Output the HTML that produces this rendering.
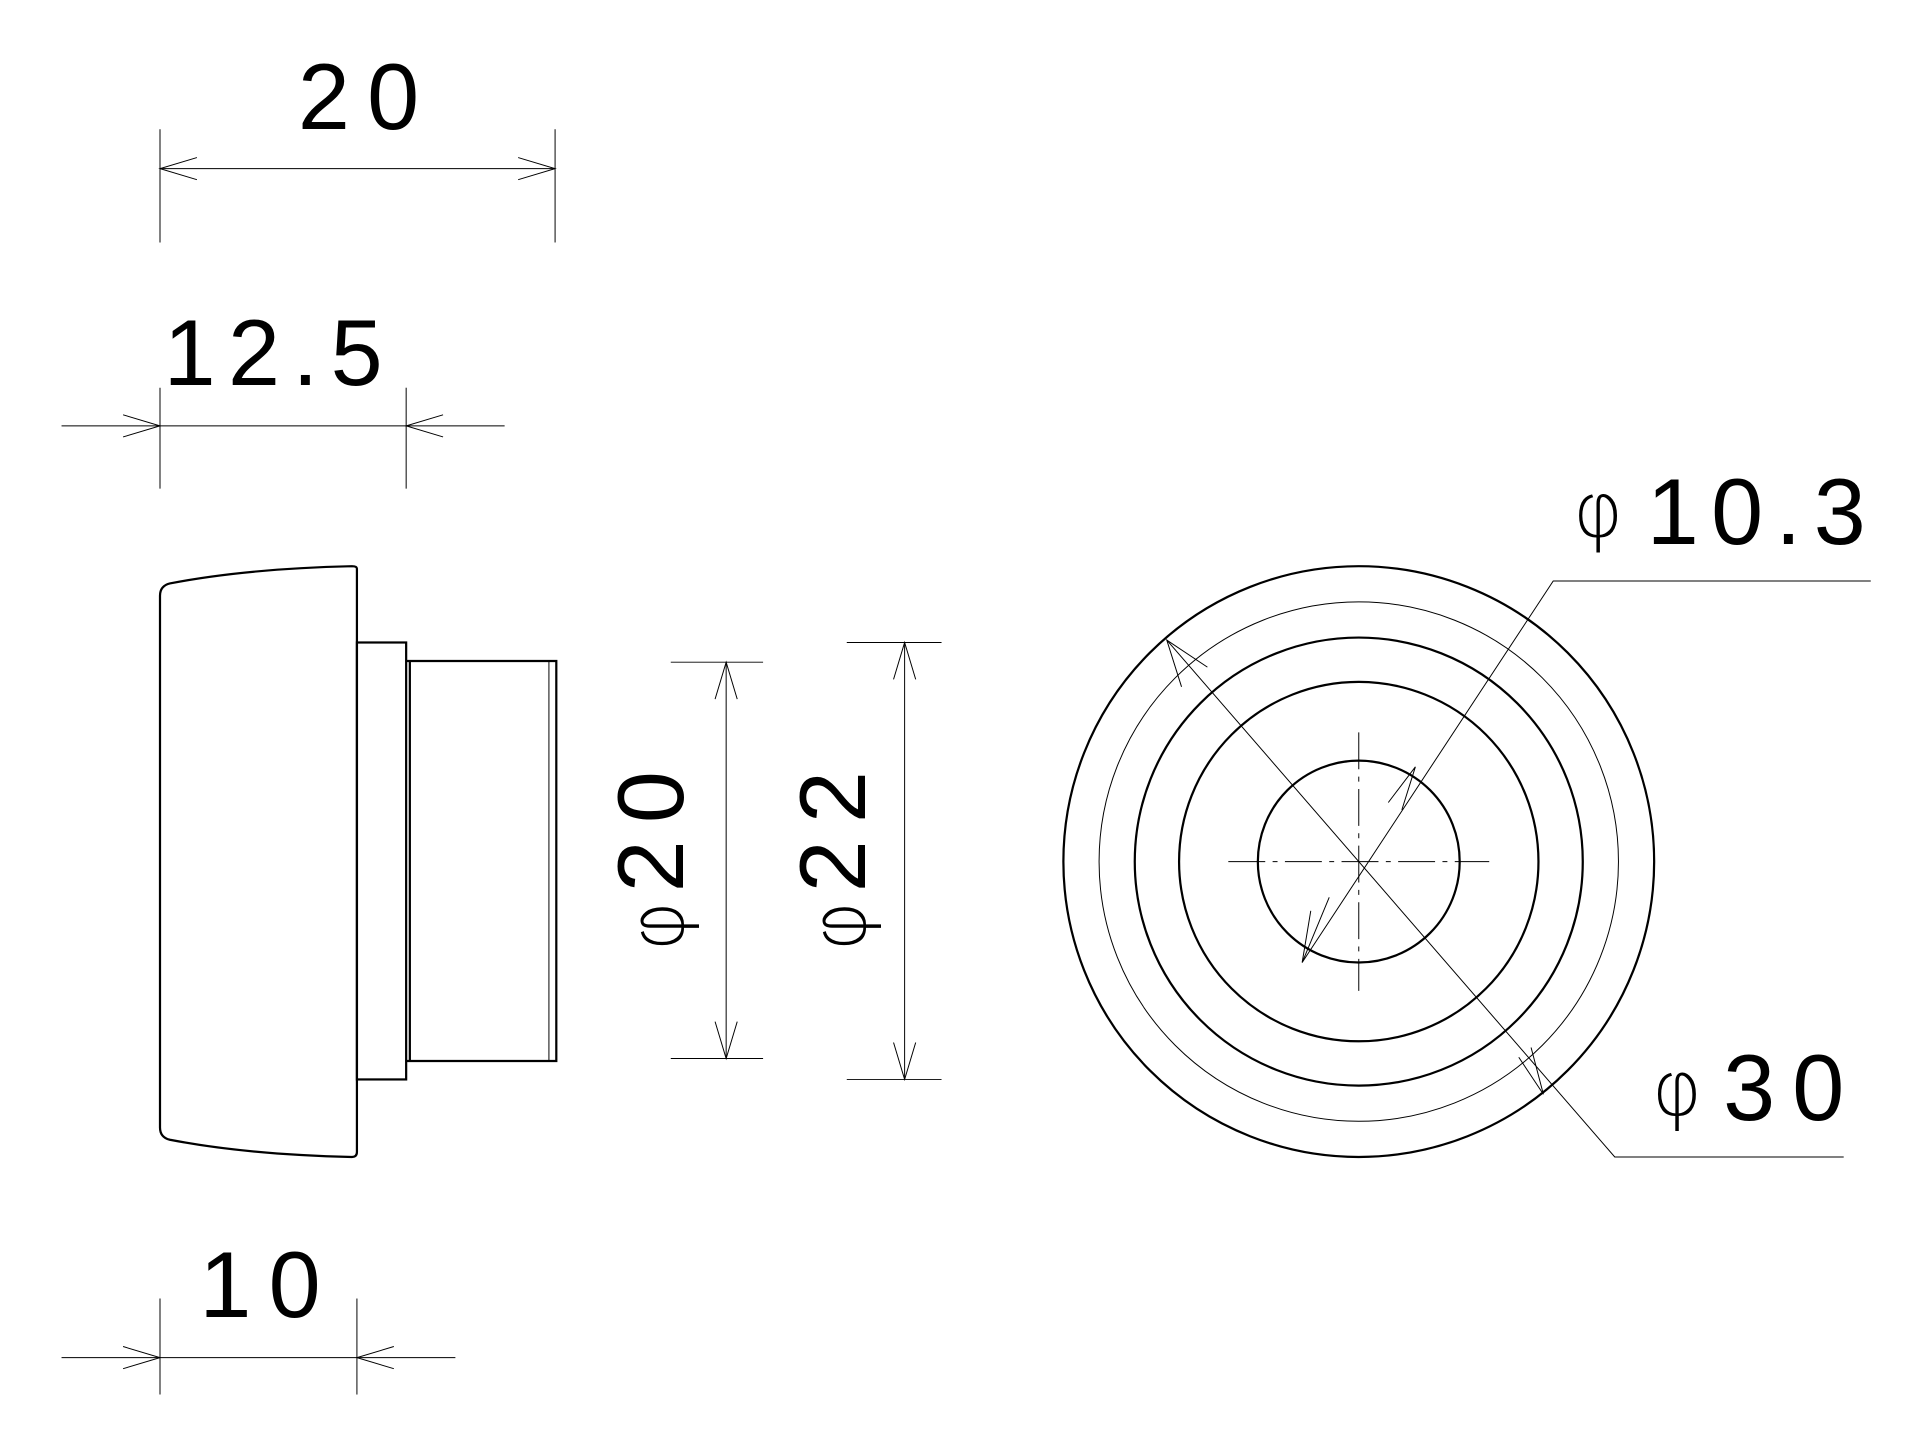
<!DOCTYPE html>
<html><head><meta charset="utf-8"><style>
html,body{margin:0;padding:0;background:#fff;}
svg{display:block;}
text{font-family:"Liberation Sans",sans-serif;fill:#000;}
.t{font-size:76px;letter-spacing:14px;}
.n{font-size:76px;letter-spacing:10px;}
.p{font-size:62px;font-family:"DejaVu Sans",sans-serif;font-weight:200;}
</style></head><body>
<svg width="1920" height="1453" viewBox="0 0 1560 1180.5" preserveAspectRatio="none" xmlns="http://www.w3.org/2000/svg">
<g fill="none" stroke="#000" stroke-width="0.8">
<line x1="130" y1="105" x2="130" y2="197"/><line x1="451" y1="105" x2="451" y2="197"/>
<line x1="130" y1="137" x2="451" y2="137"/>
<polyline points="160,128 130,137 160,146"/><polyline points="421,128 451,137 421,146"/>
<line x1="130" y1="315" x2="130" y2="397"/><line x1="330" y1="315" x2="330" y2="397"/>
<line x1="50" y1="346" x2="410" y2="346"/>
<polyline points="100,337 130,346 100,355"/><polyline points="360,337 330,346 360,355"/>
<line x1="130" y1="1055" x2="130" y2="1133"/><line x1="290" y1="1055" x2="290" y2="1133"/>
<line x1="50" y1="1103" x2="370" y2="1103"/>
<polyline points="100,1094 130,1103 100,1112"/><polyline points="320,1094 290,1103 320,1112"/>
<line x1="545" y1="538" x2="620" y2="538"/><line x1="545" y1="860" x2="620" y2="860"/>
<line x1="590" y1="538" x2="590" y2="860"/>
<polyline points="581,568 590,538 599,568"/><polyline points="581,830 590,860 599,830"/>
<line x1="688" y1="522" x2="765" y2="522"/><line x1="688" y1="877" x2="765" y2="877"/>
<line x1="735" y1="522" x2="735" y2="877"/>
<polyline points="726,552 735,522 744,552"/><polyline points="726,847 735,877 744,847"/>
</g>
<g fill="none" stroke="#000" stroke-width="1.8">
<path d="M290,462 Q290,460 286,460 Q200,462 138,474 Q130,476 130,484 L130,916 Q130,924 138,926 Q200,938 286,940 Q290,940 290,936 Z"/>
<rect x="290" y="522" width="40" height="355"/>
<path d="M333,537 L452,537 L452,862 L333,862 M330,537 L333,537 L333,862 L330,862"/>
<line x1="446" y1="537" x2="446" y2="862" stroke-width="0.8"/>
<circle cx="1104" cy="700" r="240"/>
<circle cx="1104" cy="700" r="182"/>
<circle cx="1104" cy="700" r="146"/>
<circle cx="1104" cy="700" r="82"/>
</g>
<g fill="none" stroke="#000" stroke-width="0.8">
<circle cx="1104" cy="700" r="211"/>
<line x1="998" y1="700" x2="1210" y2="700" stroke-dasharray="30,6,4,6"/>
<line x1="1104" y1="595" x2="1104" y2="805" stroke-dasharray="30,6,4,6"/>
<polyline points="1058,782 1262,472 1520,472"/>
<polyline points="1128,652 1150,623 1139,658"/>
<polyline points="1080,729 1058,782 1065,740"/>
<polyline points="948,520 1312,940 1498,940"/>
<polyline points="960,558 948,520 981,542"/>
<polyline points="1234,859 1254,889 1244,851"/>
</g>
<text class="t" x="242" y="105">20</text>
<text class="n" x="133" y="313">12.5</text>
<text class="t" x="162" y="1070">10</text>
<text class="p" x="1278" y="436">φ</text>
<text class="n" x="1338" y="442">10.3</text>
<text class="p" x="1342" y="906">φ</text>
<text class="t" x="1400" y="910">30</text>
<g transform="translate(555,765) rotate(-90)"><text class="p" x="-8" y="0">φ</text><text class="t" x="40" y="0">20</text></g>
<g transform="translate(703,765) rotate(-90)"><text class="p" x="-8" y="0">φ</text><text class="t" x="40" y="0">22</text></g>
</svg>
</body></html>
